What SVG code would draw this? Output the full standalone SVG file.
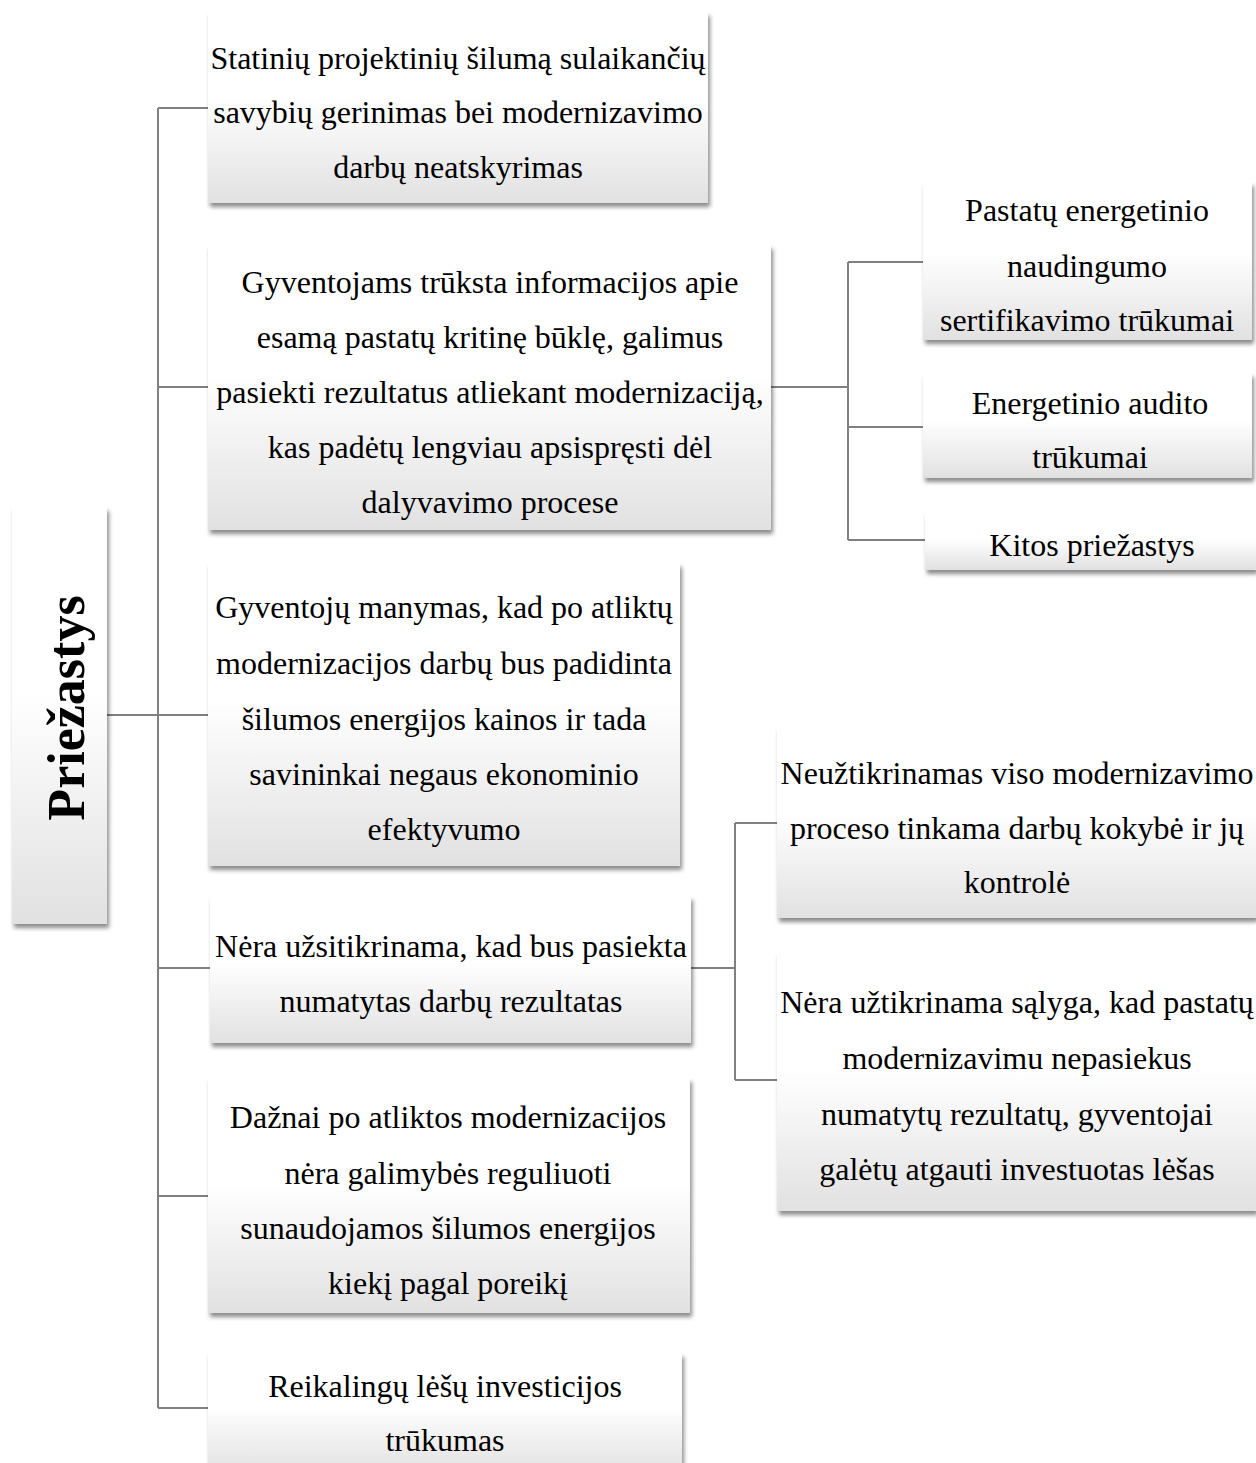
<svg xmlns="http://www.w3.org/2000/svg" width="1256" height="1463" viewBox="0 0 1256 1463">
  <defs>
    <linearGradient id="boxFill" x1="0" y1="0" x2="0" y2="1">
      <stop offset="0" stop-color="#ffffff"/>
      <stop offset="0.45" stop-color="#ffffff"/>
      <stop offset="1" stop-color="#e1e1e1"/>
    </linearGradient>
    <filter id="shadow" x="-10%" y="-10%" width="130%" height="130%">
      <feDropShadow dx="2" dy="4" stdDeviation="2" flood-color="#000" flood-opacity="0.45"/>
    </filter>
  </defs>
  <style>
    .box { fill: url(#boxFill); filter: url(#shadow); }
    .link { fill: none; stroke: #808080; stroke-width: 2; }
    text { font-family: "Liberation Serif", "Times New Roman", serif; font-size: 32px; fill: #000; text-anchor: middle; }
    .root { font-size: 52px; font-weight: bold; }
  </style>
  <rect width="1256" height="1463" fill="#ffffff"/>

  <!-- connectors -->
  <g id="connectors">
    <path class="link" d="M107 715 H158"/>
    <path class="link" d="M158 108 V1408"/>
    <path class="link" d="M158 108 H208"/>
    <path class="link" d="M158 387 H208"/>
    <path class="link" d="M158 715 H208"/>
    <path class="link" d="M158 968 H210"/>
    <path class="link" d="M158 1196 H208"/>
    <path class="link" d="M158 1408 H208"/>
    <path class="link" d="M771 387 H848"/>
    <path class="link" d="M848 262 V540"/>
    <path class="link" d="M848 262 H923"/>
    <path class="link" d="M848 427 H923"/>
    <path class="link" d="M848 540 H925"/>
    <path class="link" d="M691 968 H735"/>
    <path class="link" d="M735 823 V1080"/>
    <path class="link" d="M735 823 H777"/>
    <path class="link" d="M735 1080 H777"/>
  </g>

  <!-- root node -->
  <g id="node-root">
    <rect class="box" x="12" y="507" width="95" height="417"/>
    <text class="root" transform="translate(84 708) rotate(-90)">Priežastys</text>
  </g>

  <g id="node-1">
    <rect class="box" x="208" y="12" width="500" height="191"/>
    <text x="458" y="69">Statinių projektinių šilumą sulaikančių</text>
    <text x="458" y="123">savybių gerinimas bei modernizavimo</text>
    <text x="458" y="178">darbų neatskyrimas</text>
  </g>

  <g id="node-2">
    <rect class="box" x="208" y="245" width="563" height="285"/>
    <text x="490" y="293">Gyventojams trūksta informacijos apie</text>
    <text x="490" y="348">esamą pastatų kritinę būklę, galimus</text>
    <text x="490" y="403">pasiekti rezultatus atliekant modernizaciją,</text>
    <text x="490" y="458">kas padėtų lengviau apsispręsti dėl</text>
    <text x="490" y="513">dalyvavimo procese</text>
  </g>

  <g id="node-2a">
    <rect class="box" x="923" y="182" width="329" height="158"/>
    <text x="1087" y="221">Pastatų energetinio</text>
    <text x="1087" y="277">naudingumo</text>
    <text x="1087" y="331">sertifikavimo trūkumai</text>
  </g>

  <g id="node-2b">
    <rect class="box" x="923" y="373" width="329" height="105"/>
    <text x="1090" y="414">Energetinio audito</text>
    <text x="1090" y="468">trūkumai</text>
  </g>

  <g id="node-2c">
    <rect class="box" x="925" y="512" width="331" height="58"/>
    <text x="1092" y="556">Kitos priežastys</text>
  </g>

  <g id="node-3">
    <rect class="box" x="208" y="563" width="472" height="303"/>
    <text x="444" y="618">Gyventojų manymas, kad po atliktų</text>
    <text x="444" y="674">modernizacijos darbų bus padidinta</text>
    <text x="444" y="730">šilumos energijos kainos ir tada</text>
    <text x="444" y="785">savininkai negaus ekonominio</text>
    <text x="444" y="840">efektyvumo</text>
  </g>

  <g id="node-4">
    <rect class="box" x="210" y="896" width="481" height="147"/>
    <text x="451" y="957">Nėra užsitikrinama, kad bus pasiekta</text>
    <text x="451" y="1012">numatytas darbų rezultatas</text>
  </g>

  <g id="node-4a">
    <rect class="box" x="777" y="727" width="479" height="191"/>
    <text x="1017" y="784">Neužtikrinamas viso modernizavimo</text>
    <text x="1017" y="839">proceso tinkama darbų kokybė ir jų</text>
    <text x="1017" y="893">kontrolė</text>
  </g>

  <g id="node-4b">
    <rect class="box" x="777" y="953" width="479" height="258"/>
    <text x="1017" y="1013">Nėra užtikrinama sąlyga, kad pastatų</text>
    <text x="1017" y="1069">modernizavimu nepasiekus</text>
    <text x="1017" y="1125">numatytų rezultatų, gyventojai</text>
    <text x="1017" y="1180">galėtų atgauti investuotas lėšas</text>
  </g>

  <g id="node-5">
    <rect class="box" x="208" y="1078" width="482" height="235"/>
    <text x="448" y="1128">Dažnai po atliktos modernizacijos</text>
    <text x="448" y="1184">nėra galimybės reguliuoti</text>
    <text x="448" y="1239">sunaudojamos šilumos energijos</text>
    <text x="448" y="1294">kiekį pagal poreikį</text>
  </g>

  <g id="node-6">
    <rect class="box" x="208" y="1353" width="474" height="120"/>
    <text x="445" y="1397">Reikalingų lėšų investicijos</text>
    <text x="445" y="1451">trūkumas</text>
  </g>
</svg>
